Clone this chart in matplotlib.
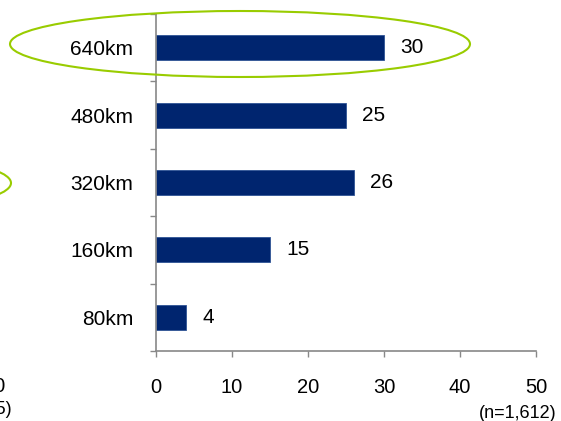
import matplotlib.pyplot as plt
import numpy as np
from matplotlib.patches import Ellipse

plt.rcParams["font.family"] = ["Liberation Sans", "DejaVu Sans"]

# Share of respondents by driving range (%)
categories = ["80km", "160km", "320km", "480km", "640km"]
shares = [4, 15, 26, 25, 30]
x_ticks = [0, 10, 20, 30, 40, 50]
sample_note = "(n=1,612)"

BAR_COLOR = "#00256F"
AXIS_COLOR = "#888888"
HIGHLIGHT = "#99CC00"

W, H = 561, 421
fig = plt.figure(figsize=(W / 100, H / 100), dpi=100)

ax = fig.add_axes([156 / W, 1 - 351 / H, 380 / W, 337 / H])
ypos = np.arange(len(categories))
ax.barh(ypos, shares, height=0.37, color=BAR_COLOR, edgecolor="#2E5395", linewidth=0.6)

for y, v in zip(ypos, shares):
    ax.annotate(str(v), (v, y), xytext=(11.5, 0), textcoords="offset points",
                va="center", ha="left", fontsize=15)

ax.set_xlim(0, 50)
ax.set_ylim(-0.5, len(categories) - 0.5)
ax.set_xticks(x_ticks)
ax.tick_params(axis="x", direction="out", length=4.5, width=1, color=AXIS_COLOR,
               labelsize=14.5, pad=15)

# boundary ticks between categories, labels centred on the bars
ax.set_yticks(np.arange(-0.5, len(categories)))
ax.set_yticklabels([])
ax.set_yticks(ypos, minor=True)
ax.set_yticklabels(categories, minor=True, fontsize=15)
ax.tick_params(axis="y", which="major", direction="out", length=4.5, width=1, color=AXIS_COLOR)
ax.tick_params(axis="y", which="minor", length=0, pad=16.5)

for side in ("top", "right"):
    ax.spines[side].set_visible(False)
for side in ("left", "bottom"):
    ax.spines[side].set_color(AXIS_COLOR)
    ax.spines[side].set_linewidth(1.2)

# overlay in pixel coordinates for callouts and notes
ov = fig.add_axes([0, 0, 1, 1], facecolor="none")
ov.set_xlim(0, W)
ov.set_ylim(H, 0)
ov.axis("off")
ov.add_patch(Ellipse((240, 44), 460, 66, fill=False, edgecolor=HIGHLIGHT, linewidth=1.5))
ov.add_patch(Ellipse((-219, 183), 460, 70, fill=False, edgecolor=HIGHLIGHT, linewidth=1.5))
ov.text(557, 413, sample_note, ha="right", va="center", fontsize=13)
ov.text(6, 387, "50", ha="right", va="center", fontsize=14.5)
ov.text(13, 409, "(n=1,615)", ha="right", va="center", fontsize=13)

fig.savefig("out.png", dpi=100)
